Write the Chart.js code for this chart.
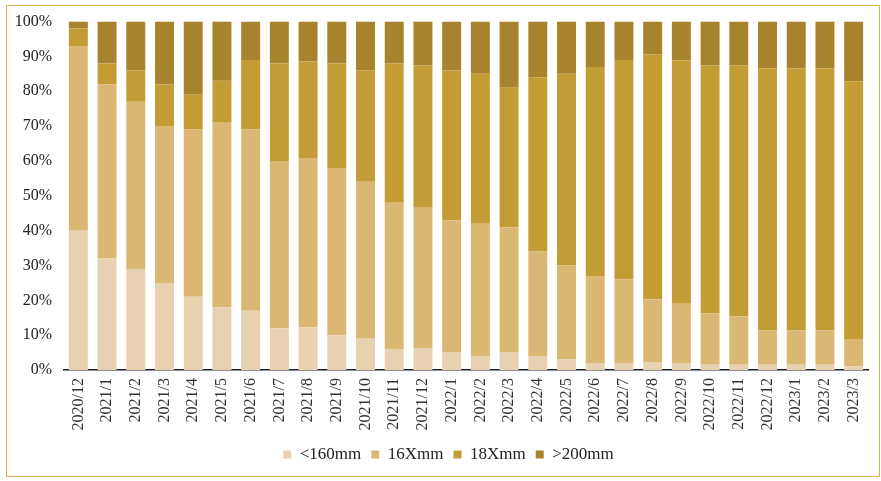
<!DOCTYPE html>
<html>
<head>
<meta charset="utf-8">
<script src="https://cdn.jsdelivr.net/npm/chart.js@4.4.0/dist/chart.umd.min.js"></script>
<style>
  html, body { margin: 0; padding: 0; background: #fff; }
  #wrap { position: relative; width: 881px; height: 481px; }
  #frame { position: absolute; left: 6px; top: 5px; width: 872px; height: 470px; border: 1px solid #D8B052; pointer-events: none; }
  canvas { position: absolute; left: 0; top: 0; }
</style>
</head>
<body>
<div id="wrap">
  <canvas id="grafico" width="881" height="481"></canvas>
  <div id="frame"></div>
</div>
<script>
let meses = ["2020/12", "2021/1", "2021/2", "2021/3", "2021/4", "2021/5", "2021/6", "2021/7",
  "2021/8", "2021/9", "2021/10", "2021/11", "2021/12", "2022/1", "2022/2", "2022/3",
  "2022/4", "2022/5", "2022/6", "2022/7", "2022/8", "2022/9", "2022/10", "2022/11",
  "2022/12", "2023/1", "2023/2", "2023/3"];

let abaixo160 = [40, 32, 29, 25, 21, 18, 17, 12, 12.3, 10, 9, 6, 6.3, 5, 4, 5, 4, 3, 2, 2, 2.3, 2, 1.5, 1.5, 1.5, 1.5, 1.5, 1];
let serie16X = [53, 50, 48, 45, 48, 53, 52, 48, 48.3, 48, 45, 42, 40.3, 38, 38, 36, 30, 27, 25, 24, 18, 17, 14.8, 13.9, 9.9, 9.9, 9.9, 7.9];
let serie18X = [5, 6, 9, 12, 10, 12, 20, 28, 28, 30, 32, 40, 40.8, 43, 43, 40, 50, 55, 60, 63, 70.3, 69.9, 71.1, 72, 75.2, 75.2, 75.2, 74];
let acima200 = [2, 12, 14, 18, 21, 17, 11, 12, 11.4, 12, 14, 12, 12.6, 14, 15, 19, 16, 15, 13, 11, 9.4, 11.1, 12.6, 12.6, 13.4, 13.4, 13.4, 17.1];

let nomes = ["<160mm", "16Xmm", "18Xmm", ">200mm"];
let cores = ["#E8D1B1", "#DAB874", "#C39C36", "#A8832D"];

let fonte = "'Liberation Serif', 'Times New Roman', serif";
let ctx = document.getElementById("grafico").getContext("2d");

let series = [abaixo160, serie16X, serie18X, acima200];

// empurra a legenda um pouco para a direita, como no original
let deslocaLegenda = {
  id: "deslocaLegenda",
  afterLayout(chart) {
    chart.legend.left += 12;
    chart.legend.right += 12;
  },
};

new Chart(ctx, {
  type: "bar",
  data: {
    labels: meses,
    datasets: series.map((valores, i) => ({
      label: nomes[i],
      data: valores,
      backgroundColor: cores[i],
      borderWidth: 0,
      categoryPercentage: 1,
      barPercentage: 0.66,
    })),
  },
  plugins: [deslocaLegenda],
  options: {
    responsive: false,
    devicePixelRatio: 1,
    animation: false,
    layout: { padding: { left: 0, right: 8, top: 20, bottom: 8 } },
    plugins: {
      tooltip: { enabled: false },
      legend: {
        position: "bottom",
        labels: {
          boxWidth: 8,
          boxHeight: 8,
          padding: 10,
          color: "#222",
          font: { family: fonte, size: 17 },
        },
      },
    },
    scales: {
      x: {
        stacked: true,
        grid: { display: false, drawTicks: false },
        border: { display: true, color: "#1a1f2e", width: 1.5 },
        ticks: {
          minRotation: 90,
          maxRotation: 90,
          padding: 8,
          color: "#333",
          font: { family: fonte, size: 16 },
        },
        afterFit: (escala) => { escala.height = 66; },
      },
      y: {
        stacked: true,
        min: 0,
        max: 100,
        grid: { display: false, drawTicks: false },
        border: { display: false },
        ticks: {
          stepSize: 10,
          padding: 12,
          color: "#222",
          font: { family: fonte, size: 16 },
          callback: (v) => v + "%",
        },
        afterFit: (escala) => { escala.width = 64; },
      },
    },
  },
});
</script>
</body>
</html>
